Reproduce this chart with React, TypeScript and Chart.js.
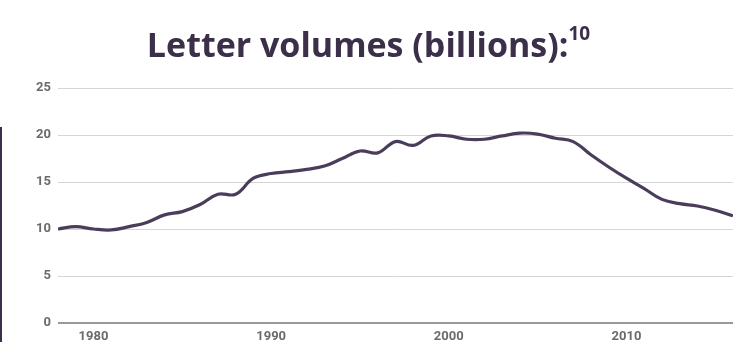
import React, { useEffect, useRef } from "react";
import { Chart, registerables } from "chart.js";

Chart.register(...registerables);

const years: number[] = [
  1978, 1979, 1980, 1981, 1982, 1983, 1984, 1985, 1986, 1987, 1988, 1989,
  1990, 1991, 1992, 1993, 1994, 1995, 1996, 1997, 1998, 1999, 2000, 2001,
  2002, 2003, 2004, 2005, 2006, 2007, 2008, 2009, 2010, 2011, 2012, 2013,
  2014, 2015, 2016,
];
const letterVolumes: number[] = [
  10.0, 10.25, 10.0, 9.9, 10.25, 10.7, 11.5, 11.85, 12.6, 13.7, 13.7, 15.4,
  15.9, 16.1, 16.35, 16.7, 17.5, 18.3, 18.1, 19.3, 18.9, 19.9, 19.9, 19.55,
  19.55, 19.9, 20.2, 20.1, 19.65, 19.3, 17.9, 16.6, 15.4, 14.3, 13.15, 12.7,
  12.45, 12.0, 11.4,
];
const xTickYears: number[] = [1980, 1990, 2000, 2010];
const yTicks: number[] = [0, 5, 10, 15, 20, 25];

const TITLE = "Letter volumes (billions):";
const TITLE_SUP = "10";

export default function App() {
  const canvasRef = useRef<HTMLCanvasElement | null>(null);

  useEffect(() => {
    if (!canvasRef.current) return;
    const chart = new Chart(canvasRef.current, {
      type: "line",
      data: {
        datasets: [
          {
            label: "Letter volumes",
            data: years.map((y, i) => ({ x: y, y: letterVolumes[i] })),
            borderColor: "#4a3d5c",
            borderWidth: 3.2,
            pointRadius: 0,
            tension: 0.4,
            fill: false,
          },
        ],
      },
      options: {
        animation: false,
        responsive: false,
        devicePixelRatio: 1,
        layout: { padding: { top: 88, right: 4, left: 0, bottom: 0 } },
        plugins: { legend: { display: false }, tooltip: { enabled: false } },
        scales: {
          x: {
            type: "linear",
            min: years[0],
            max: years[years.length - 1],
            grid: { display: false, drawTicks: false },
            border: { display: false },
            afterBuildTicks: (scale: any) => {
              scale.ticks = xTickYears.map((v) => ({ value: v }));
            },
            afterFit: (scale: any) => {
              scale.height = 19;
            },
            ticks: {
              autoSkip: false,
              maxRotation: 0,
              padding: 6,
              color: "#6b6b6b",
              font: { family: "Roboto", size: 13, weight: "bold" },
              callback: (v: any) => String(v),
            },
          },
          y: {
            min: 0,
            max: 25,
            afterBuildTicks: (scale: any) => {
              scale.ticks = yTicks.map((v) => ({ value: v }));
            },
            afterFit: (scale: any) => {
              scale.width = 58;
            },
            border: { display: false },
            grid: {
              drawTicks: false,
              color: (ctx: any) => (ctx.tick && ctx.tick.value === 0 ? "#999999" : "#d6d6d6"),
              lineWidth: (ctx: any) => (ctx.tick && ctx.tick.value === 0 ? 2 : 1),
            },
            ticks: {
              padding: 7,
              color: "#6b6b6b",
              font: { family: "Roboto", size: 13, weight: "bold" },
            },
          },
        },
      },
    });
    return () => chart.destroy();
  }, []);

  return (
    <div
      style={{
        position: "fixed",
        left: 0,
        top: 0,
        width: 737,
        height: 342,
        background: "#ffffff",
        overflow: "hidden",
      }}
    >
      <canvas
        ref={canvasRef}
        width={737}
        height={342}
        style={{ position: "absolute", left: 0, top: 0, width: 737, height: 342 }}
      />
      <div
        style={{
          position: "absolute",
          left: 0,
          top: 127,
          width: 2,
          height: 215,
          background: "#3b2f4a",
        }}
      />
      <div
        style={{
          position: "absolute",
          left: 0,
          top: 21,
          width: 737,
          textAlign: "center",
          fontFamily: "'Open Sans', sans-serif",
          fontWeight: 700,
          fontSize: 34,
          lineHeight: "normal",
          color: "#3b2f4a",
          whiteSpace: "nowrap",
        }}
      >
        {TITLE}
        <sup style={{ fontSize: 19, verticalAlign: "top", position: "relative", top: -1 }}>
          {TITLE_SUP}
        </sup>
      </div>
    </div>
  );
}
